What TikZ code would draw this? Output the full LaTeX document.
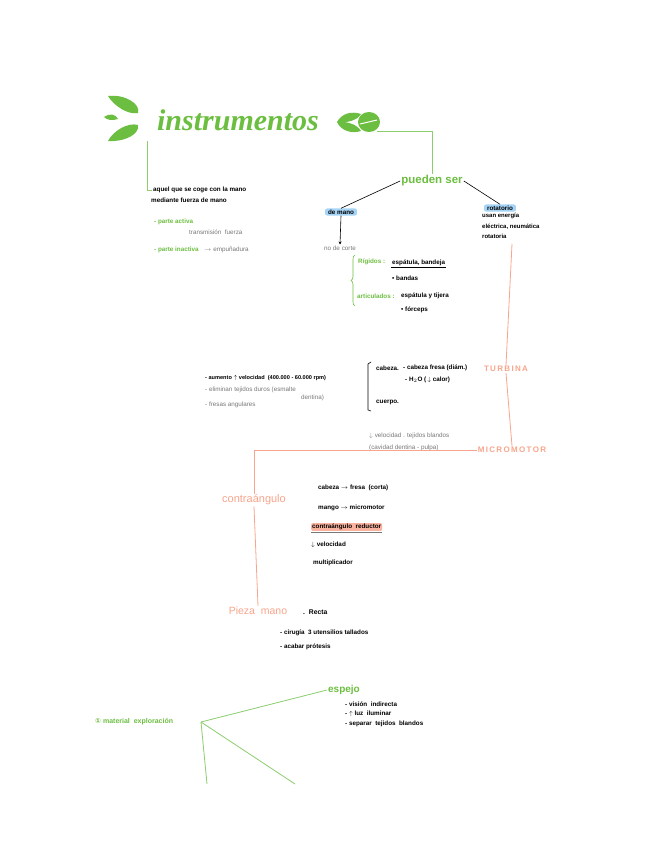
\documentclass[tikz,border=0pt]{standalone}
\usepackage{fontspec}
\setmainfont{Liberation Sans}
\newfontfamily\titlefont{Liberation Serif}
\newfontfamily\symfont{DejaVu Sans}
\usepackage{tikz}
\usetikzlibrary{arrows.meta,positioning,calc,decorations.pathreplacing}
\usepackage{xcolor}
\definecolor{leafGreen}{RGB}{108,190,64}
\definecolor{lineGreen}{RGB}{140,205,110}
\definecolor{salmon}{RGB}{248,165,140}
\definecolor{skyHl}{RGB}{165,212,246}
\definecolor{inkGray}{RGB}{120,120,120}
\tikzset{
    every node/.append style={align=left},
    hw/.style={font=\bfseries\fontsize{6.3}{7.3}\selectfont,inner sep=1pt,anchor=west},
    gry/.style={hw,font=\fontsize{6.3}{7.3}\selectfont,text=inkGray},
    grn/.style={hw,text=leafGreen},
    head/.style={font=\bfseries\fontsize{9}{11}\selectfont,inner sep=1pt},
    grnhead/.style={head,text=leafGreen},
    salhead/.style={head,text=salmon},
    hl/.style={hw,fill=skyHl,rounded corners=2pt,inner xsep=3pt,inner ysep=1.2pt,anchor=center},
    gline/.style={draw=lineGreen,line width=0.8pt},
    sline/.style={draw=salmon,line width=0.8pt},
    bline/.style={draw=black,line width=0.6pt},
    leaf/.style={fill=leafGreen}
}
\begin{document}
\begin{tikzpicture}[x=1pt,y=-1pt]
    \useasboundingbox[fill=white] (0,0) rectangle (648,848);

    % title and leaves
    \node[text=leafGreen,font=\titlefont\itshape\bfseries\fontsize{30}{32}\selectfont,inner sep=0pt] (title) at (238,120) {instrumentos};
    \fill[leaf] (108,96) .. controls (125,94) and (141,104) .. (138,113) .. controls (128,115) and (114,106) .. (108,96) -- cycle;
    \fill[leaf] (104,117) .. controls (109,113) and (116,114) .. (118,119) .. controls (112,121) and (107,120) .. (104,117) -- cycle;
    \fill[leaf] (108,141) .. controls (113,131) and (128,122) .. (138,125) .. controls (140,134) and (125,142) .. (108,141) -- cycle;
    \fill[leaf] (337,122) .. controls (342,113) and (352,111) .. (361,114) .. controls (357,121) and (346,123) .. (337,122) -- cycle;
    \fill[leaf] (337,122) .. controls (346,121) and (357,124) .. (361,131) .. controls (352,134) and (341,131) .. (337,122) -- cycle;
    \fill[leaf] (369,122) ellipse (11 and 10);
    \draw[white,line width=1pt] (360,124) -- (377,120);

    % definition
    \node[hw] (def1) at (152,190) {aquel que se coge con la mano};
    \node[hw] (def2) at (150,200) {mediante fuerza de mano};
    \node[grn] (act)  at (153,222) {- parte activa};
    \node[gry] (actn) at (188,232) {transmisión\ \ fuerza};
    \node[grn] (inact) at (153,250) {- parte inactiva};
    \node[gry] (inactn) at (203,250) {$\to$ empuñadura};
    \coordinate (tl) at (147,141);
    \draw[gline] (tl) |- (def1.west);

    % types
    \node[grnhead,font=\bfseries\fontsize{11.5}{13}\selectfont] (ps) at (432,181) {pueden ser};
    \coordinate (tr) at (377,131);
    \draw[gline] (tr) -| (ps.north);
    \node[hl] (dm)  at (341,212) {de mano};
    \node[hl] (rot) at (500,208) {rotatorio};
    \draw[bline] (ps.west) -- (dm.north);
    \draw[bline] (ps.east) -- (rot.north);
    \node[hw,font=\bfseries\fontsize{6}{10.5}\selectfont,anchor=north west] (rotn) at (481,212) {usan energía\\eléctrica, neumática\\rotatoria};

    % de mano
    \node[gry,anchor=center] (nc) at (340,248) {no de corte};
    \draw[bline,-{Stealth[length=3pt,width=3pt]}] (dm.south) -- (nc.north);
    \draw[draw=leafGreen,line width=0.6pt,decorate,decoration={brace,amplitude=4pt}] (355,306) -- (355,255);
    \node[grn] (rig)  at (357,262) {Rígidos :};
    \node[hw]  (rign) at (391,263) {espátula, bandeja};
    \draw[bline,line width=0.4pt] (rign.south west) -- (rign.south east);
    \node[hw]  (band) at (391,278) {• bandas};
    \node[grn] (art)  at (356,296) {articulados :};
    \node[hw]  (artn) at (400,296) {espátula y tijera};
    \node[hw]  (forc) at (400,310) {• fórceps};

    % turbina
    \node[salhead,font=\bfseries\fontsize{8}{9}\selectfont] (tb) at (506,369) {T\,U\,R\,B\,I\,N\,A};
    \coordinate (ts) at (512,244);
    \draw[sline] (ts) -- (tb.north);
    \node[hw,font=\bfseries\fontsize{5.6}{6.6}\selectfont] (t1) at (204,378) {- aumento $\uparrow$ velocidad\ \ (400.000 - 60.000 rpm)};
    \node[gry] (t2) at (204,390) {- eliminan tejidos duros (esmalte};
    \node[gry] (t3) at (300,398) {dentina)};
    \node[gry] (t4) at (204,405) {- fresas angulares};
    \draw[bline] (371,362) -- (368,364) -- (368,410) -- (371,411);
    \node[hw] (cab)  at (375,368) {cabeza.};
    \node[hw] (cab1) at (402,368) {- cabeza fresa (diám.)};
    \node[hw] (cab2) at (404,380) {- H$_2$O (\,$\downarrow$ calor)};
    \node[hw] (cue)  at (375,402) {cuerpo.};

    % micromotor
    \node[salhead,font=\bfseries\fontsize{8}{9}\selectfont] (mm) at (512,450) {M\,I\,C\,R\,O\,M\,O\,T\,O\,R};
    \draw[sline] (tb.south) -- (mm.north);
    \node[gry] (m1) at (368,436) {$\downarrow$ velocidad . tejidos blandos};
    \node[gry] (m2) at (368,448) {(cavidad dentina - pulpa)};

    % contraangulo
    \node[salhead,font=\fontsize{11}{13}\selectfont] (ca) at (254,500) {contraángulo};
    \draw[sline] (mm.west) -| (ca.north);
    \node[hw] (c1) at (317,488) {cabeza $\to$ fresa\ \ (corta)};
    \node[hw] (c2) at (317,508) {mango $\to$ micromotor};
    \node[hw,fill=salmon!85,rounded corners=2pt] (c3) at (311,527) {contraángulo\ \ reductor};
    \draw[draw=inkGray,line width=0.5pt] ($(c3.south west)+(0,1.5)$) -- ($(c3.south east)+(0,1.5)$);
    \node[hw] (c4) at (310,545) {$\downarrow$ velocidad};
    \node[hw] (c5) at (312,563) {multiplicador};

    % pieza de mano
    \node[salhead,font=\fontsize{10.5}{12}\selectfont] (pm) at (258,611) {Pieza\ \ mano};
    \draw[sline] (ca.south) -- (pm.north);
    \node[hw,font=\bfseries\fontsize{6.8}{7.8}\selectfont] (rec) at (302,612) {.\ \ Recta};
    \node[hw] (p1) at (279,633) {- cirugía\ \ 3 utensilios tallados};
    \node[hw] (p2) at (279,647) {- acabar prótesis};

    % material de exploracion
    \node[grn,font=\bfseries\fontsize{7}{8}\selectfont] (me) at (94,722) {{\symfont ①} material\ \ exploración};
    \node[grnhead,font=\bfseries\fontsize{10}{12}\selectfont] (es) at (344,690) {espejo};
    \coordinate (hub) at (201,722);
    \coordinate (b1) at (207,784);
    \coordinate (b2) at (295,784);
    \draw[gline] (hub) -- (es.west);
    \draw[gline] (hub) -- (b1);
    \draw[gline] (hub) -- (b2);
    \node[hw] (e1) at (344,704) {- visión\ \ indirecta};
    \node[hw] (e2) at (344,714) {- $\uparrow$ luz\ \ iluminar};
    \node[hw] (e3) at (344,724) {- separar\ \ tejidos\ \ blandos};
\end{tikzpicture}
\end{document}
